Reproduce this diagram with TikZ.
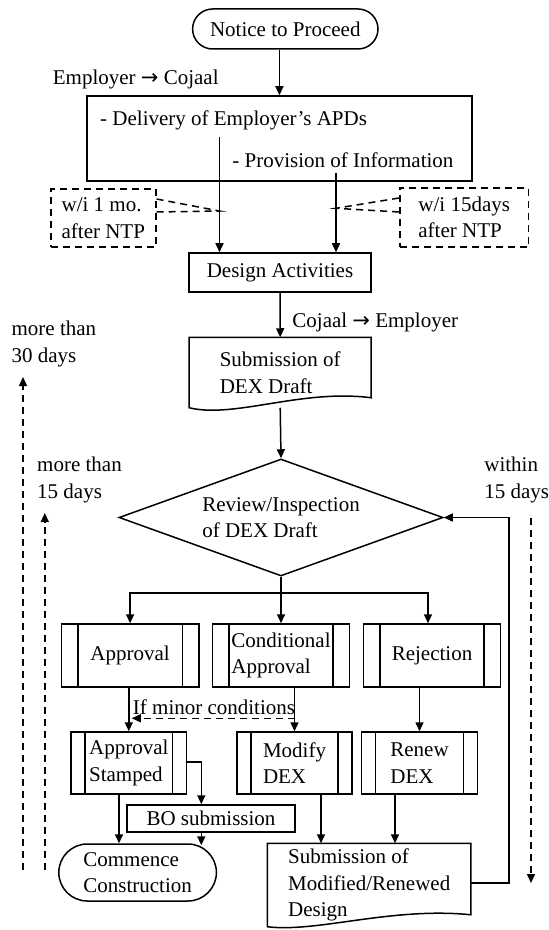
\documentclass[tikz,border=0pt]{standalone}
\usepackage{fontspec}
\setmainfont{Liberation Serif}
\newfontfamily\symfont{DejaVu Sans}
\usepackage{tikz}
\usetikzlibrary{positioning,arrows.meta,shapes.geometric}

\tikzset{
  stroke/.style={line width=0.75pt},
  arr/.style={stroke, -{Triangle[length=4.5pt,width=4pt]}},
  dasharr/.style={arr, dash pattern=on 3.5pt off 2.5pt},
  box/.style={draw, stroke, font=\fontsize{10.5}{13.3}\selectfont, align=left, inner sep=1pt},
  dashbox/.style={box, dash pattern=on 3.5pt off 2.5pt},
  subproc/.style={box, path picture={
    \draw[stroke] ([xshift=#1]path picture bounding box.north west) -- ([xshift=#1]path picture bounding box.south west)
      ([xshift=-#1]path picture bounding box.north east) -- ([xshift=-#1]path picture bounding box.south east);}},
  term/.style={box, rounded corners=#1},
  txt/.style={font=\fontsize{10.5}{13.3}\selectfont, align=left, inner sep=0pt, anchor=west},
}

\begin{document}
\begin{tikzpicture}[x=0.5pt,y=-0.5pt]
\useasboundingbox (0,0) rectangle (549,930);

% Start and inputs
\node[term=10pt, minimum width=92.7pt, minimum height=20pt] (ntp) at (285.3,29) {Notice to Proceed};
\node[txt] (empcoj) at (52.5,79) {Employer {\symfont →} Cojaal};
\node[box, minimum width=192.6pt, minimum height=42.5pt] (inputs) at (279.4,138.5) {};
\node[txt] (delivery) at (99.8,120) {- Delivery of Employer’s APDs};
\node[txt] (provision) at (232,160) {- Provision of Information};

% Deadlines
\node[dashbox, minimum width=52.5pt, minimum height=29pt] (lmonth) at (103.3,218) {w/i 1 mo.\\after NTP};
\node[dashbox, minimum width=64.4pt, minimum height=29.5pt] (rdays) at (464.2,217.5) {w/i 15days\\after NTP};

% Design and submission
\node[box, minimum width=91pt, minimum height=19.5pt] (design) at (280,272.5) {Design Activities};
\node[txt] (cojemp) at (292,322) {Cojaal {\symfont →} Employer};
\node[box, draw=none, minimum width=90.25pt, minimum height=34.5pt] (draft) at (280.2,372.5) {Submission of\\DEX Draft};
\node[box, diamond, aspect=2.77, minimum width=162pt, minimum height=58.5pt, inner sep=0pt] (review) at (281,517.5) {Review/Inspection\\of DEX Draft};

% Outcomes
\node[subproc=8.25pt, minimum width=68.8pt, minimum height=31.5pt] (approval) at (130.1,655.5) {Approval};
\node[subproc=8.25pt, minimum width=68.5pt, minimum height=31.5pt] (condapp) at (281,655.5) {Conditional\\Approval};
\node[subproc=8.25pt, minimum width=68.6pt, minimum height=31.5pt] (rejection) at (432,655.5) {Rejection};

\node[subproc=7pt, minimum width=57.8pt, minimum height=31pt] (stamped) at (128.8,763) {Approval\\Stamped};
\node[subproc=7pt, minimum width=57.5pt, minimum height=31pt] (modify) at (294.5,763) {Modify\\DEX};
\node[subproc=7pt, minimum width=57.8pt, minimum height=31pt] (renew) at (419.5,763) {Renew\\DEX};
\node[txt, anchor=center] (minor) at (214,707) {If minor conditions};

\node[box, minimum width=83.9pt, minimum height=13.5pt, inner sep=0pt] (bo) at (211,818.5) {BO submission};
\node[term=14.25pt, minimum width=78.8pt, minimum height=28.5pt] (commence) at (137.6,872.5) {Commence\\Construction};
\node[box, draw=none, minimum width=101pt, minimum height=41pt] (modified) at (369.2,885) {Submission of\\Modified/Renewed\\Design};

% Time labels
\node[txt] (more30) at (11.2,344) {more than\\30 days};
\node[txt] (more15) at (36.8,480) {more than\\15 days};
\node[txt] (within15) at (484,480) {within\\15 days};

% Document outlines
\draw[stroke] (draft.south west) -- (draft.north west) -- (draft.north east) -- ([yshift=5pt]draft.south east)
  .. controls ([xshift=-35pt,yshift=9.5pt]draft.south east) and ([xshift=22.5pt,yshift=-5.5pt]draft.south west) .. (draft.south west) -- cycle;
\draw[stroke] (modified.south west) -- (modified.north west) -- (modified.north east) -- ([yshift=6pt]modified.south east)
  .. controls ([xshift=-40pt,yshift=10pt]modified.south east) and ([xshift=25pt,yshift=-3pt]modified.south west) .. (modified.south west) -- cycle;

% Helper points
\coordinate (dstart) at (219.5,137);
\coordinate (pstart) at (336,173);
\coordinate (ljoin) at (219.5,211);
\coordinate (rjoin) at (336,208.3);
\coordinate (stleft) at ([xshift=-4.9pt]stamped.south);
\coordinate (bojoin) at ([xshift=-4.85pt]bo.north);
\coordinate (modout) at ([xshift=13.25pt]modify.south);
\coordinate (renout) at ([xshift=-12.25pt]renew.south);
\coordinate (low30) at (23,870);
\coordinate (top30) at (23,377);
\coordinate (low15) at (44.8,870);
\coordinate (top15) at (44.8,513);
\coordinate (wtop) at (531,518);
\coordinate (wlow) at (531,883);

% Connectors
\draw[arr] (inputs.north |- ntp.south) -- (inputs.north);
\draw[arr] (dstart) -- (dstart |- design.north);
\draw[arr] (pstart) -- (pstart |- design.north);
\draw[stroke, dash pattern=on 3.5pt off 2.5pt] ([yshift=9.5pt]lmonth.east) -- (ljoin) -- ([yshift=3pt]lmonth.east);
\draw[stroke, dash pattern=on 3.5pt off 2.5pt] ([yshift=9.75pt]rdays.west) -- (rjoin) -- ([yshift=2.75pt]rdays.west);
\draw[arr] (design.south) -- (draft.north);
\draw[arr] (draft.south) -- (review.north);
\draw[arr] (review.south) -- (condapp.north);
\draw[arr] (review.south) -- ++(0,16) -| (approval.north);
\draw[arr] (review.south) -- ++(0,16) -| ([xshift=-2pt]rejection.north);
\draw[arr] (stamped.north |- approval.south) -- (stamped.north);
\draw[arr] (modify.north |- condapp.south) -- (modify.north);
\draw[arr] (renew.north |- rejection.south) -- (renew.north);
\draw[dasharr] ([yshift=6.5pt]modify.north) -- ([xshift=1.5pt,yshift=6.5pt]stamped.north);
\draw[arr] (stleft) -- (stleft |- commence.north);
\draw[arr] ([yshift=0.5pt]stamped.east) -| (bojoin);
\draw[arr] (bojoin |- bo.south) -- ([yshift=-1pt]bojoin |- commence.north);
\draw[arr] (modout) -- (modout |- modified.north);
\draw[arr] (renout) -- (renout |- modified.north);
\draw[arr] ([yshift=1pt]modified.east) -- ++(38.2,0) |- (review.east);

% Time arrows
\draw[dasharr] (low30) -- (top30);
\draw[dasharr] (low15) -- (top15);
\draw[dasharr] (wtop) -- (wlow);
\end{tikzpicture}
\end{document}
